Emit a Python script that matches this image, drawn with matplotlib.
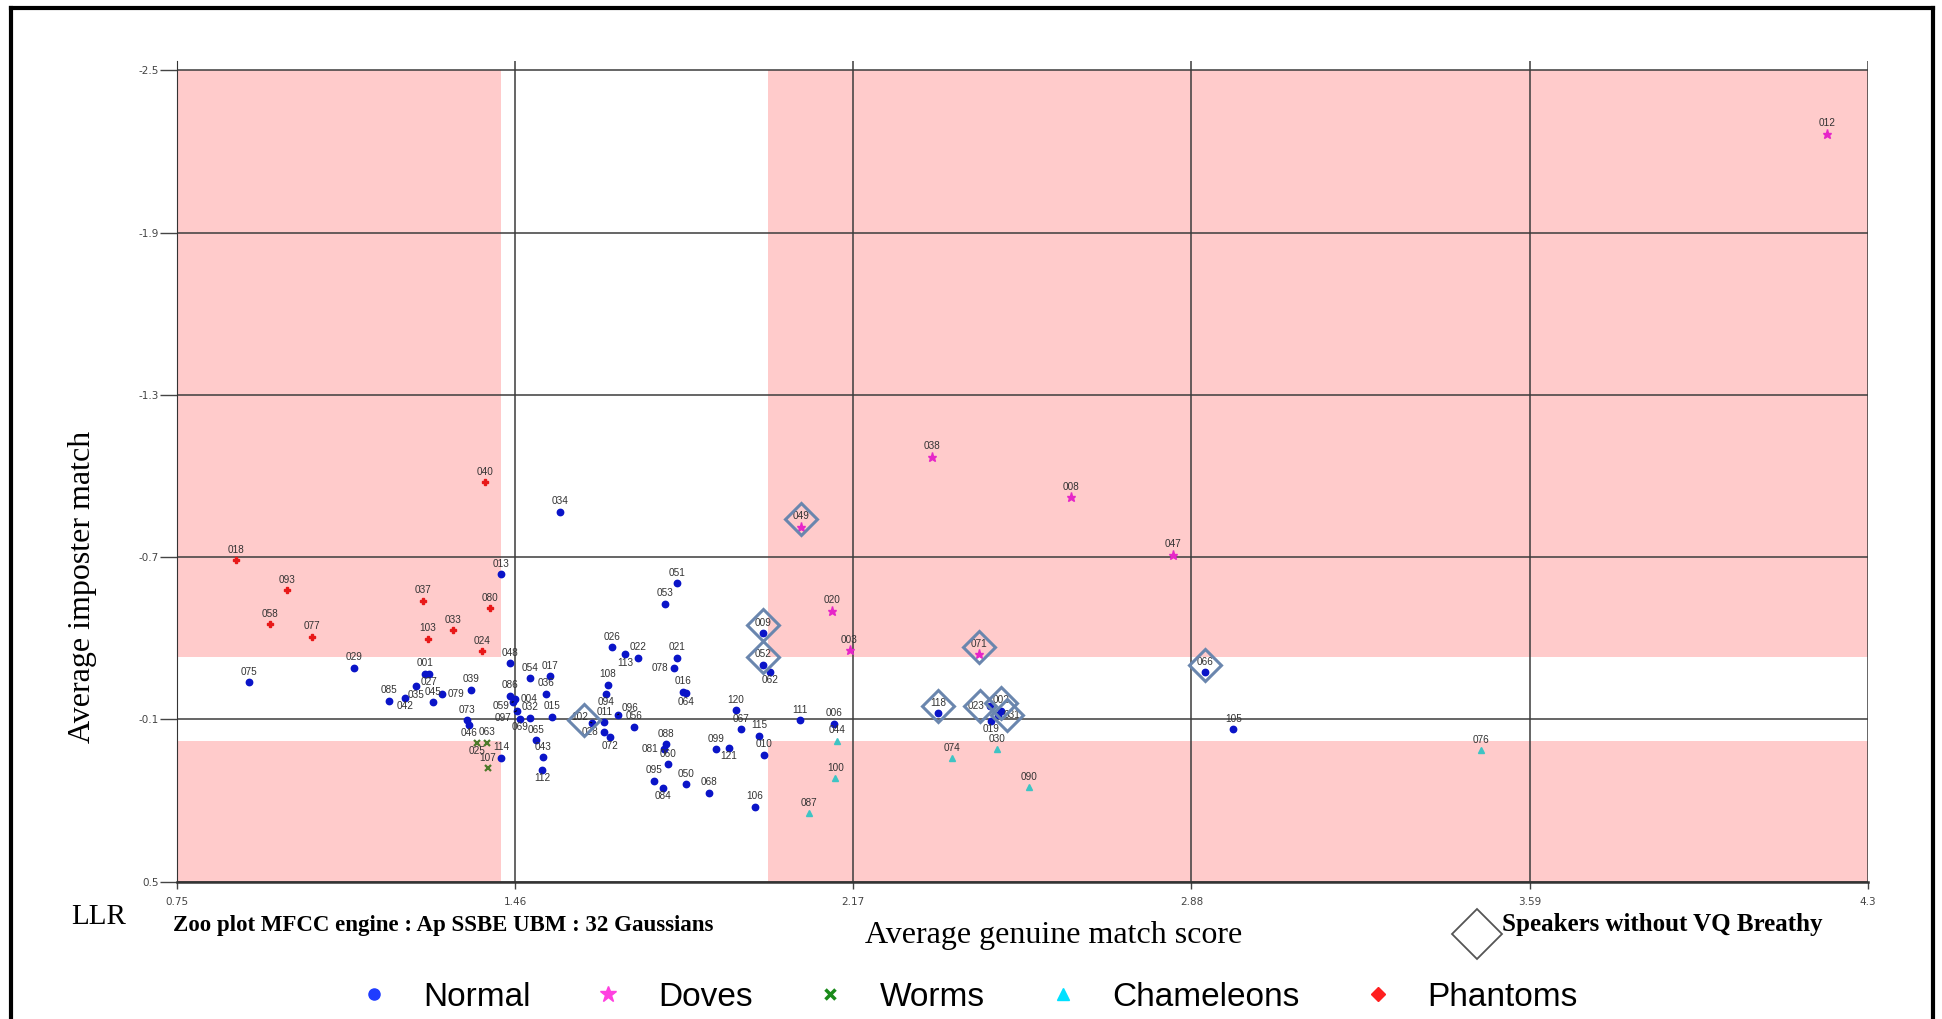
import matplotlib
matplotlib.use("Agg")
import matplotlib.pyplot as plt
from matplotlib.lines import Line2D
from matplotlib.transforms import offset_copy

# speaker ids and (genuine, imposter) scores per animal group
normal_ids = ['013', '029', '075', '001', '027', '035', '085', '042', '045', '079', '039', '073', '046', '114',
              '048', '054', '017', '036', '086', '004', '059', '097', '069', '032', '015', '065', '043', '112',
              '102', '028', '011', '072', '094', '108', '096', '056', '026', '113', '022', '021', '078', '016',
              '064', '088', '081', '060', '095', '084', '050', '051', '053', '009', '052', '062', '120', '067',
              '115', '010', '099', '121', '068', '106', '111', '006', '118', '023', '002', '031', '019', '066',
              '105', '034']
normal_x = [1.431, 1.1225, 0.901, 1.270, 1.280, 1.2515, 1.195, 1.228, 1.287, 1.306, 1.368, 1.359, 1.363, 1.431,
            1.4495, 1.492, 1.5335, 1.524, 1.449, 1.459, 1.456, 1.463, 1.470, 1.492, 1.537, 1.503, 1.518, 1.516,
            1.621, 1.647, 1.647, 1.660, 1.650, 1.655, 1.675, 1.709, 1.664, 1.691, 1.718, 1.799, 1.793, 1.813,
            1.818, 1.776, 1.772, 1.781, 1.752, 1.770, 1.818, 1.799, 1.774, 1.981, 1.980, 1.995, 1.923, 1.935,
            1.972, 1.982, 1.882, 1.909, 1.867, 1.963, 2.058, 2.129, 2.348, 2.457, 2.480, 2.474, 2.460, 2.908,
            2.968, 1.5545]
normal_y = [-0.637, -0.291, -0.237, -0.269, -0.269, -0.223, -0.169, -0.179, -0.163, -0.192, -0.209, -0.096, -0.080, 0.042,
            -0.307, -0.2515, -0.259, -0.195, -0.187, -0.174, -0.165, -0.132, -0.102, -0.106, -0.110, -0.0235, 0.0405, 0.086,
            -0.087, -0.053, -0.090, -0.0335, -0.195, -0.227, -0.117, -0.073, -0.366, -0.340, -0.328, -0.328, -0.290, -0.202,
            -0.197, -0.0075, 0.010, 0.066, 0.128, 0.153, 0.140, -0.603, -0.527, -0.419, -0.302, -0.277, -0.133, -0.063,
            -0.0395, 0.031, 0.010, 0.005, 0.171, 0.223, -0.097, -0.083, -0.122, -0.148, -0.132, -0.115, -0.094, -0.274,
            -0.064, -0.8675]

dove_ids = ['012', '038', '008', '047', '049', '020', '003', '071']
dove_x = [4.215, 2.336, 2.627, 2.841, 2.061, 2.126, 2.162, 2.434]
dove_y = [-2.266, -1.071, -0.921, -0.7085, -0.812, -0.5015, -0.355, -0.341]

worm_ids = ['025', '063', '107']
worm_x = [1.380, 1.401, 1.403]
worm_y = [-0.0135, -0.0135, 0.081]

cham_ids = ['044', '100', '087', '074', '030', '090', '076']
cham_x = [2.136, 2.132, 2.077, 2.378, 2.471, 2.539, 3.489]
cham_y = [-0.021, 0.118, 0.2475, 0.044, 0.011, 0.151, 0.0135]

phantom_ids = ['018', '093', '058', '077', '037', '103', '033', '080', '024', '040']
phantom_x = [0.8735, 0.980, 0.946, 1.034, 1.267, 1.276, 1.329, 1.407, 1.391, 1.396]
phantom_y = [-0.689, -0.578, -0.452, -0.405, -0.538, -0.398, -0.430, -0.510, -0.351, -0.976]

# speakers without VQ breathy (outlined with diamonds)
vq_ids = ['049', '009', '052', '102', '071', '118', '023', '002', '031', '066']

# zoo thresholds (pink zones)
x_low, x_high = 1.43, 1.99
y_top, y_bot = -0.33, -0.02

x_ticks = [0.75, 1.46, 2.17, 2.88, 3.59, 4.3]
y_ticks = [-2.5, -1.9, -1.3, -0.7, -0.1, 0.5]

# where the label sits relative to the point (default: above)
below = ['027', '035', '042', '046', '025', '069', '112', '094', '113', '064', '084', '062', '121', '019', '072']
left = ['078', '081', '023', '028']
right = ['079', '004', '031']
leader = {'059': (-9, -3), '097': (-9.5, -5.5), '102': (-9, 4), '096': (9, 5)}

pink = '#ffcbcb'
fig = plt.figure(figsize=(19.42, 10.19), dpi=100)
ax = fig.add_axes([0.0912, 0.1348, 0.8705, 0.8055])
ax.set_xlim(0.75, 4.3)
ax.set_ylim(0.5, -2.535)

for xa, xb in [(0.75, x_low), (x_high, 4.3)]:
    ax.fill_between([xa, xb], -2.5, y_top, color=pink, lw=0, zorder=0.5)
    ax.fill_between([xa, xb], y_bot, 0.5, color=pink, lw=0, zorder=0.5)

ax.set_xticks(x_ticks)
ax.set_xticklabels(['0.75', '1.46', '2.17', '2.88', '3.59', '4.3'])
ax.set_yticks(y_ticks)
ax.set_yticklabels(['-2.5', '-1.9', '-1.3', '-0.7', '-0.1', '0.5'])
ax.grid(True, color='#3c3c3c', lw=1.1)
for s in ['top', 'right']:
    ax.spines[s].set_visible(False)
ax.spines['left'].set_color('#333333')
ax.spines['bottom'].set_color('#333333')
ax.spines['bottom'].set_linewidth(1.8)
ax.tick_params(axis='y', length=12, width=1, color='#444444', labelsize=7.5, labelcolor='#444444', pad=1)
ax.tick_params(axis='x', length=5, width=1, color='#444444', labelsize=7.5, labelcolor='#444444', pad=6)

groups = [
    (normal_ids, normal_x, normal_y, dict(marker='o', color='#0a14c8', ms=4.6)),
    (dove_ids, dove_x, dove_y, dict(marker='*', color='#e626c8', ms=6.5)),
    (worm_ids, worm_x, worm_y, dict(marker='x', color='#4d7a2a', ms=4, mew=1.6)),
    (cham_ids, cham_x, cham_y, dict(marker='^', color='#3ec4c4', ms=4.8)),
    (phantom_ids, phantom_x, phantom_y, dict(marker='P', color='#e81818', ms=4.8)),
]

pos = {}
for ids, xs, ys, st in groups:
    ax.plot(xs, ys, ls='none', zorder=3, **st)
    for sid, x, y in zip(ids, xs, ys):
        pos[sid] = (x, y)
        kw = dict(textcoords='offset points', fontsize=7.2, color='#333333', family='Liberation Sans', zorder=4)
        if sid in leader:
            ax.annotate(sid, (x, y), xytext=leader[sid], ha='center', va='center',
                        arrowprops=dict(arrowstyle='-', color='black', lw=0.8, shrinkA=0, shrinkB=0), **kw)
        elif sid in below:
            ax.annotate(sid, (x, y), xytext=(0, -2.5), ha='center', va='top', **kw)
        elif sid in left:
            ax.annotate(sid, (x, y), xytext=(-4, 0), ha='right', va='center', **kw)
        elif sid in right:
            ax.annotate(sid, (x, y), xytext=(4, 0), ha='left', va='center', **kw)
        else:
            ax.annotate(sid, (x, y), xytext=(0, 4), ha='center', va='bottom', **kw)

# diamonds centred on the label of each VQ speaker
for sid in vq_ids:
    x, y = pos[sid]
    if sid in left:
        dx, dy = -7.5, 0
    elif sid in right:
        dx, dy = 6.5, 0
    elif sid in leader:
        dx, dy = -6, 2
    else:
        dx, dy = 0, 5.5
    tr = offset_copy(ax.transData, fig=fig, x=dx, y=dy, units='points')
    ax.plot([x], [y], marker='D', ms=16, mfc='none', mec='#6a86ae', mew=2.2, transform=tr, zorder=5)

serif = 'Liberation Serif'
fig.text(0.0425, 0.424, 'Average imposter match', rotation=90, ha='center', va='center', fontsize=23, family=serif)
fig.text(0.5425, 0.0815, 'Average genuine match score', ha='center', va='center', fontsize=23, family=serif)
fig.text(0.051, 0.1, 'LLR', ha='center', va='center', fontsize=21, family=serif)
fig.text(0.089, 0.0915, 'Zoo plot MFCC engine : Ap SSBE UBM : 32 Gaussians', ha='left', va='center',
         fontsize=16.5, family=serif, weight='bold')
fig.text(0.7735, 0.0925, 'Speakers without VQ Breathy', ha='left', va='center',
         fontsize=18, family=serif, weight='bold')
fig.add_artist(Line2D([0.7606], [0.0834], marker='D', ms=25, mfc='none', mec='#555555', mew=1.3,
                      transform=fig.transFigure))

handles = [
    Line2D([], [], ls='none', marker='o', color='#1f3cff', ms=8),
    Line2D([], [], ls='none', marker='*', color='#ff40e0', ms=12),
    Line2D([], [], ls='none', marker='x', color='#1a8a1a', ms=7, mew=2.5),
    Line2D([], [], ls='none', marker='^', color='#00e0ff', ms=9),
    Line2D([], [], ls='none', marker='D', color='#ff2020', ms=7),
]
fig.legend(handles, ['Normal', 'Doves', 'Worms', 'Chameleons', 'Phantoms'], loc='center',
           bbox_to_anchor=(0.498, 0.021), ncol=5, frameon=False,
           prop={'family': 'Liberation Sans', 'size': 24}, handlelength=1, handletextpad=0.98, columnspacing=1.84)

# outer frame
for xs, ys in [([0.0055, 0.0055], [0, 0.9926]), ([0.0055, 0.9955], [0.9926, 0.9926]), ([0.9955, 0.9955], [0, 0.9926])]:
    fig.add_artist(Line2D(xs, ys, transform=fig.transFigure, color='black', lw=3))

fig.savefig('out.png', dpi=100)
